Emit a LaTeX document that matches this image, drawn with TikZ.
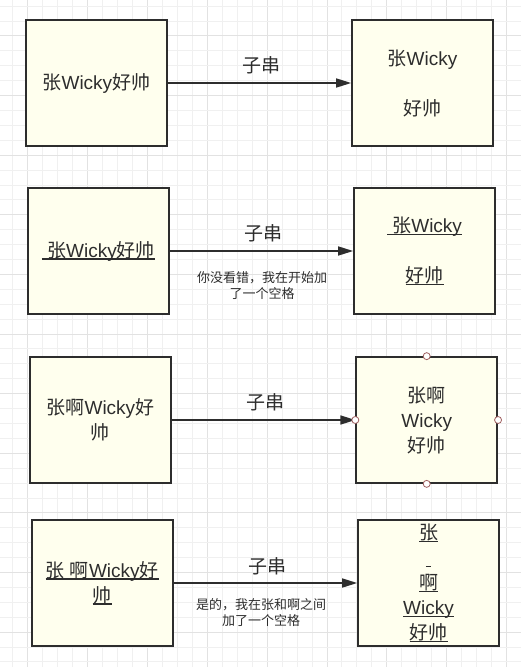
\documentclass[tikz,border=0pt]{standalone}
\usepackage{fontspec}
\setmainfont{Noto Sans CJK SC}
\newfontfamily\lat{Liberation Sans}
\usetikzlibrary{arrows.meta}
\definecolor{boxfill}{RGB}{255,255,238}
\definecolor{ink}{RGB}{45,45,45}
\definecolor{gridminor}{RGB}{240,240,240}
\definecolor{gridmajor}{RGB}{226,226,226}
\definecolor{handle}{RGB}{160,96,96}
\newsavebox\ulbox
\newcommand\myul[1]{\sbox\ulbox{#1}\rlap{\rule[-0.14em]{\wd\ulbox}{0.07em}}\usebox\ulbox}
\newcommand\wk{{\lat Wicky}}
\tikzset{
  strbox/.style={draw=ink, line width=1.7pt, fill=boxfill, text=ink,
    minimum width=141pt, minimum height=126pt, inner sep=0pt,
    align=center, font=\fontsize{19}{25}\selectfont},
  conn/.style={draw=ink, line width=1.6pt, -{Triangle[length=15pt,width=9pt]}},
  sublabel/.style={text=ink, font=\fontsize{19}{22}\selectfont, inner sep=0pt},
  notelabel/.style={text=ink, font=\fontsize{13}{16}\selectfont, align=center, inner sep=0pt},
  handledot/.style={circle, draw=handle, fill=white, line width=0.8pt, minimum size=7pt, inner sep=0pt}
}
\begin{document}
\begin{tikzpicture}[x=1pt,y=-1pt]
\useasboundingbox (0,0) rectangle (521,667);
\fill[white] (0,0) rectangle (521,667);
% grid
\foreach \i in {0,...,34}{
  \pgfmathtruncatemacro\m{mod(\i,4)}
  \ifnum\m=1 \def\gc{gridmajor}\else\def\gc{gridminor}\fi
  \draw[\gc, line width=0.7pt] ({12.7+14.96*\i},0) -- ({12.7+14.96*\i},667);
}
\foreach \j in {0,...,44}{
  \pgfmathtruncatemacro\m{mod(\j,4)}
  \ifnum\m=2 \def\gc{gridmajor}\else\def\gc{gridminor}\fi
  \draw[\gc, line width=0.7pt] (0,{6+14.905*\j}) -- (521,{6+14.905*\j});
}
% row 1
\node[strbox] (a1) at (96.4,83) {张\wk 好帅};
\node[strbox] (b1) at (422.5,83) {张\wk\\ \mbox{}\\ 好帅};
\draw[conn] (a1.east) -- (b1.west);
\node[sublabel] (l1) at (261,65) {子串};
% row 2
\node[strbox] (a2) at (98.4,251) {\myul{{\lat\ }张\wk 好帅}};
\node[strbox] (b2) at (424.5,251) {\myul{{\lat\ }张\wk}\\ \mbox{}\\ \myul{好帅}};
\draw[conn] (a2.east) -- (b2.west);
\node[sublabel] (l2) at (263,233) {子串};
\node[notelabel] (n2) at (262,286) {你没看错，我在开始加\\了一个空格};
% row 3
\node[strbox] (a3) at (100.4,420) {张啊\wk 好\\帅};
\node[strbox] (b3) at (426.7,420) {张啊\\\wk\\好帅};
\draw[conn] (a3.east) -- (b3.west);
\node[sublabel] (l3) at (265,402) {子串};
\node[handledot] (h1) at (b3.north) {};
\node[handledot] (h2) at (b3.south) {};
\node[handledot] (h3) at (b3.west) {};
\node[handledot] (h4) at (b3.east) {};
% row 4
\node[strbox] (a4) at (102.2,583) {\myul{张{\lat\ }啊\wk 好}\\\myul{帅}};
\node[strbox] (b4) at (428.5,583) {\myul{张}\\\myul{{\lat\ }}\\\myul{啊}\\\myul{\wk}\\\myul{好帅}};
\draw[conn] (a4.east) -- (b4.west);
\node[sublabel] (l4) at (267,566) {子串};
\node[notelabel] (n4) at (261,613) {是的，我在张和啊之间\\加了一个空格};
\end{tikzpicture}
\end{document}
